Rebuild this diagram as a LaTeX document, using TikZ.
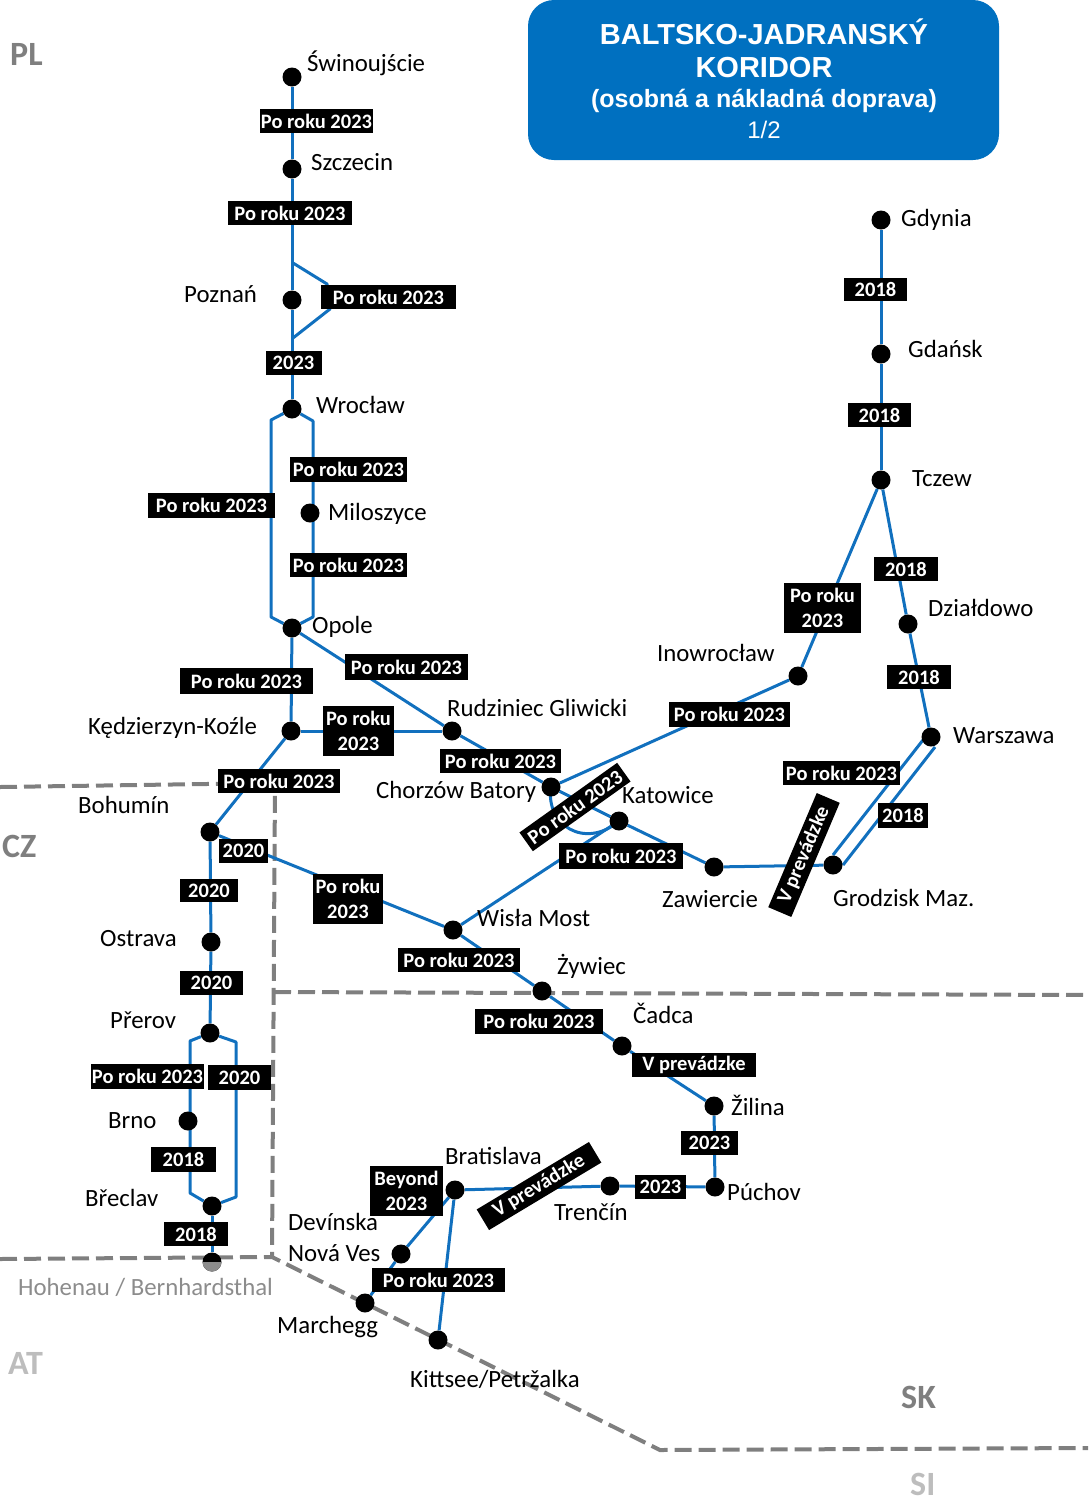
\documentclass[tikz,border=0pt]{standalone}
\usepackage{fontspec}
\setmainfont{Carlito}
\newfontfamily\titlefont{Liberation Sans}
\usetikzlibrary{backgrounds}
\definecolor{railblue}{HTML}{1170BE}
\definecolor{titleblue}{HTML}{0070C0}
\definecolor{bordergray}{HTML}{7F7F7F}
\definecolor{countrygray}{HTML}{7F7F7F}
\definecolor{palegray}{HTML}{BDBDBD}
\definecolor{hintgray}{HTML}{8C8C8C}
\tikzset{
  stn/.style={circle,fill=black,minimum size=19pt,inner sep=0pt},
  place/.style={anchor=base west,inner sep=0pt,font=\fontsize{24.8}{28}\selectfont},
  tag/.style={fill=black,text=white,inner sep=0pt,align=center,font=\bfseries\fontsize{20.5}{24.5}\selectfont},
  rail/.style={draw=railblue,line width=3pt,line join=round},
  frontier/.style={draw=bordergray,line width=4pt,dash pattern=on 17pt off 7pt},
  country/.style={anchor=base west,inner sep=0pt,font=\bfseries\fontsize{34}{36}\selectfont,text=countrygray},
  titleline/.style={text=white,inner sep=0pt,font=\titlefont\bfseries\fontsize{29}{32}\selectfont}
}
\begin{document}
\begin{tikzpicture}[x=1pt,y=-1pt]
\useasboundingbox (0,0) rectangle (1088,1497);

% corridor heading
\fill[titleblue,rounded corners=26pt] (528,0) rectangle (999,160);
\node[titleline] (t1) at (764,32) {BALTSKO-JADRANSKÝ};
\node[titleline] (t2) at (764,68) {KORIDOR};
\node[titleline,font=\titlefont\bfseries\fontsize{25}{30}\selectfont] (t3) at (764,101) {(osobná a nákladná doprava)};
\node[titleline,font=\titlefont\fontsize{24}{28}\selectfont] (t4) at (764,130) {1/2};

% stations
\node[stn] (swin) at (292,77) {};
\node[stn] (szcz) at (292,169) {};
\node[stn] (pozn) at (292,300) {};
\node[stn] (wroc) at (292,409) {};
\node[stn] (milo) at (310,513) {};
\node[stn] (opol) at (292,628) {};
\node[stn] (kedz) at (291,731) {};
\node[stn] (rudz) at (452,731) {};
\node[stn] (chor) at (551,787) {};
\node[stn] (kato) at (619,821) {};
\node[stn] (zawi) at (714,867) {};
\node[stn] (grod) at (833,865) {};
\node[stn] (wars) at (931,737) {};
\node[stn] (dzia) at (908,624) {};
\node[stn] (tcze) at (881,480) {};
\node[stn] (gdan) at (881,354) {};
\node[stn] (gdyn) at (881,220) {};
\node[stn] (inow) at (798,676) {};
\node[stn] (bohu) at (210,832) {};
\node[stn] (ostr) at (211,942) {};
\node[stn] (prer) at (210,1033) {};
\node[stn] (brno) at (188,1121) {};
\node[stn] (brec) at (212,1206) {};
\node[stn] (hohe) at (212,1262) {};
\node[stn] (wisl) at (453,930) {};
\node[stn] (zywi) at (542,991) {};
\node[stn] (cadc) at (622,1046) {};
\node[stn] (zili) at (714,1106) {};
\node[stn] (puch) at (715,1187) {};
\node[stn] (tren) at (610,1186) {};
\node[stn] (brat) at (455,1190) {};
\node[stn] (devi) at (401,1254) {};
\node[stn] (marc) at (365,1303) {};
\node[stn] (kitt) at (438,1340) {};

% lower half of the station just across the frontier
\begin{scope}
  \clip (200,1262) rectangle (224,1275);
  \fill[hintgray] (hohe) circle (9.5);
\end{scope}

% bend points of the doubled sections
\coordinate (pa) at (293,263);
\coordinate (pb) at (327,284);
\coordinate (pc) at (330,309);
\coordinate (pd) at (293,338);
\coordinate (wl1) at (271,420);
\coordinate (wl2) at (271,617);
\coordinate (wr1) at (313,421);
\coordinate (wr2) at (313,617);
\coordinate (pl1) at (190,1041);
\coordinate (pl2) at (190,1193);
\coordinate (pr1) at (236,1042);
\coordinate (pr2) at (236,1197);
\coordinate (gw1) at (833,855);
\coordinate (gw2) at (923,740);
\coordinate (gw3) at (843,865);
\coordinate (gw4) at (935,747);

\begin{scope}[on background layer]
  % frontiers
  \coordinate (f1) at (0,787);
  \coordinate (f2) at (275,783);
  \coordinate (f3) at (272,1257);
  \coordinate (f4) at (0,1259);
  \coordinate (f5) at (660,1450);
  \coordinate (f6) at (1088,1448);
  \coordinate (f7) at (274,992);
  \coordinate (f8) at (1088,995);
  \draw[frontier] (f1) -- (f2) -- (f3);
  \draw[frontier] (f4) -- (f3) -- (f5) -- (f6);
  \draw[frontier] (f7) -- (f8);

  % northern branch to Opole
  \draw[rail] (swin) -- (szcz);
  \draw[rail] (szcz) -- (pozn);
  \draw[rail] (pozn) -- (wroc);
  \draw[rail] (pa) -- (pb) -- (pc) -- (pd);
  \draw[rail] (wroc) -- (wl1) -- (wl2) -- (opol);
  \draw[rail] (wroc) -- (wr1) -- (wr2) -- (opol);
  \draw[rail] (opol) -- (kedz);
  \draw[rail] (opol) -- (rudz);
  \draw[rail] (kedz) -- (rudz);

  % Silesia towards Warszawa and Gdynia
  \draw[rail] (rudz) -- (chor);
  \draw[rail] (chor) -- (kato);
  \draw[rail] (kato) -- (zawi);
  \draw[rail] (zawi) -- (grod);
  \draw[rail] (gw1) -- (gw2);
  \draw[rail] (gw3) -- (gw4);
  \draw[rail] (wars) -- (dzia);
  \draw[rail] (dzia) -- (tcze);
  \draw[rail] (tcze) -- (gdan);
  \draw[rail] (gdan) -- (gdyn);
  \draw[rail] (tcze) -- (inow);
  \draw[rail] (inow) -- (chor);
  \draw[rail] (chor.center) .. controls (545,825) and (585,850) .. (kato.center);

  % Czech branch
  \draw[rail] (kedz) -- (bohu);
  \draw[rail] (bohu) -- (ostr);
  \draw[rail] (ostr) -- (prer);
  \draw[rail] (prer) -- (pl1) -- (pl2) -- (brec);
  \draw[rail] (prer) -- (pr1) -- (pr2) -- (brec);
  \draw[rail] (brec) -- (hohe);

  % Slovak branch
  \draw[rail] (bohu) -- (wisl);
  \draw[rail] (wisl) -- (kato);
  \draw[rail] (wisl) -- (zywi);
  \draw[rail] (zywi) -- (cadc);
  \draw[rail] (cadc) -- (zili);
  \draw[rail] (zili) -- (puch);
  \draw[rail] (puch) -- (tren);
  \draw[rail] (tren) -- (brat);
  \draw[rail] (brat) -- (devi);
  \draw[rail] (devi) -- (marc);
  \draw[rail] (brat) -- (kitt);
\end{scope}

% completion dates
\node[tag,minimum width=113pt,minimum height=24pt] (d1) at (316.5,121) {Po roku 2023};
\node[tag,minimum width=124pt,minimum height=24pt] (d2) at (290,213) {Po roku 2023};
\node[tag,minimum width=135pt,minimum height=24pt] (d3) at (388.5,297) {Po roku 2023};
\node[tag,minimum width=56pt,minimum height=24pt] (d4) at (293.5,363) {2023};
\node[tag,minimum width=117pt,minimum height=25pt] (d5) at (348.5,469.5) {Po roku 2023};
\node[tag,minimum width=127pt,minimum height=25pt] (d6) at (211.5,505.5) {Po roku 2023};
\node[tag,minimum width=117pt,minimum height=24pt] (d7) at (348.5,565) {Po roku 2023};
\node[tag,minimum width=123pt,minimum height=26pt] (d8) at (406.5,667) {Po roku 2023};
\node[tag,minimum width=133pt,minimum height=26pt] (d9) at (246.5,681) {Po roku 2023};
\node[tag,minimum width=71pt,minimum height=50pt] (d10) at (358.5,731) {Po roku\\2023};
\node[tag,minimum width=121pt,minimum height=24pt] (d11) at (500.5,761) {Po roku 2023};
\node[tag,minimum width=122pt,minimum height=24pt] (d12) at (279,781) {Po roku 2023};
\node[tag,minimum width=49pt,minimum height=24pt] (d13) at (243.5,851) {2020};
\node[tag,minimum width=58pt,minimum height=23pt] (d14) at (209,890.5) {2020};
\node[tag,minimum width=70pt,minimum height=50pt] (d15) at (348,899) {Po roku\\2023};
\node[tag,minimum width=122pt,minimum height=24pt] (d16) at (459,960) {Po roku 2023};
\node[tag,minimum width=63pt,minimum height=24pt] (d17) at (211.5,983) {2020};
\node[tag,minimum width=128pt,minimum height=25pt] (d18) at (539,1021.5) {Po roku 2023};
\node[tag,minimum width=124pt,minimum height=24pt] (d19) at (694,1065) {V prevádzke};
\node[tag,minimum width=57pt,minimum height=24pt] (d20) at (709.5,1143) {2023};
\node[tag,minimum width=51pt,minimum height=24pt] (d21) at (660.5,1187) {2023};
\node[tag,minimum width=113pt,minimum height=25pt] (d22) at (147.5,1076.5) {Po roku 2023};
\node[tag,minimum width=63pt,minimum height=25pt] (d23) at (239.5,1077.5) {2020};
\node[tag,minimum width=65pt,minimum height=25pt] (d24) at (183.5,1159.5) {2018};
\node[tag,minimum width=64pt,minimum height=24pt] (d25) at (196,1234) {2018};
\node[tag,minimum width=73pt,minimum height=50pt] (d26) at (406.5,1191) {Beyond\\2023};
\node[tag,minimum width=133pt,minimum height=24pt] (d27) at (438.5,1280) {Po roku 2023};
\node[tag,rotate=31,minimum width=131pt,minimum height=24pt] (d28) at (539,1186) {V prevádzke};
\node[tag,rotate=35.5,minimum width=120pt,minimum height=23pt] (d29) at (575,807) {Po roku 2023};
\node[tag,rotate=67,minimum width=124pt,minimum height=25pt] (d30) at (804,855) {V prevádzke};
\node[tag,minimum width=117pt,minimum height=24pt] (d31) at (841.5,773) {Po roku 2023};
\node[tag,minimum width=50pt,minimum height=25pt] (d32) at (903,815.5) {2018};
\node[tag,minimum width=121pt,minimum height=25pt] (d33) at (729.5,714.5) {Po roku 2023};
\node[tag,minimum width=124pt,minimum height=26pt] (d34) at (621,856) {Po roku 2023};
\node[tag,minimum width=77pt,minimum height=50pt] (d35) at (822.5,608) {Po roku\\2023};
\node[tag,minimum width=63pt,minimum height=23pt] (d36) at (875.5,289.5) {2018};
\node[tag,minimum width=63pt,minimum height=24pt] (d37) at (879.5,415) {2018};
\node[tag,minimum width=64pt,minimum height=24pt] (d38) at (906,569) {2018};
\node[tag,minimum width=64pt,minimum height=24pt] (d39) at (919,677) {2018};

% station names
\node[place] (n1) at (307,71) {Świnoujście};
\node[place] (n2) at (311,170) {Szczecin};
\node[place] (n3) at (184,302) {Poznań};
\node[place] (n4) at (316,413) {Wrocław};
\node[place] (n5) at (328,520) {Miloszyce};
\node[place] (n6) at (312,633) {Opole};
\node[place] (n7) at (88,734) {Kędzierzyn-Koźle};
\node[place] (n8) at (447,716) {Rudziniec Gliwicki};
\node[place] (n9) at (376,798) {Chorzów Batory};
\node[place] (n10) at (622,803) {Katowice};
\node[place] (n11) at (662,907) {Zawiercie};
\node[place] (n12) at (833,906) {Grodzisk Maz.};
\node[place] (n13) at (953,743) {Warszawa};
\node[place] (n14) at (928,616) {Działdowo};
\node[place] (n15) at (912,486) {Tczew};
\node[place] (n16) at (908,357) {Gdańsk};
\node[place] (n17) at (901,226) {Gdynia};
\node[place] (n18) at (657,661) {Inowrocław};
\node[place] (n19) at (78,813) {Bohumín};
\node[place] (n20) at (100,946) {Ostrava};
\node[place] (n21) at (110,1028) {Přerov};
\node[place] (n22) at (108,1128) {Brno};
\node[place] (n23) at (85,1206) {Břeclav};
\node[place,text=hintgray] (n24) at (18,1295) {Hohenau / Bernhardsthal};
\node[place] (n25) at (445,1164) {Bratislava};
\node[place] (n26) at (288,1230) {Devínska};
\node[place] (n27) at (288,1261) {Nová Ves};
\node[place] (n28) at (554,1220) {Trenčín};
\node[place] (n29) at (727,1200) {Púchov};
\node[place] (n30) at (731,1115) {Žilina};
\node[place] (n31) at (633,1023) {Čadca};
\node[place] (n32) at (557,974) {Żywiec};
\node[place] (n33) at (477,926) {Wisła Most};
\node[place] (n34) at (277,1333) {Marchegg};
\node[place] (n35) at (410,1387) {Kittsee/Petržalka};

% countries
\node[country] (c1) at (10,65) {PL};
\node[country] (c2) at (2,857) {CZ};
\node[country,text=palegray] (c3) at (8,1374) {AT};
\node[country] (c4) at (901,1408) {SK};
\node[country,text=palegray] (c5) at (910,1495) {SI};
\end{tikzpicture}
\end{document}
